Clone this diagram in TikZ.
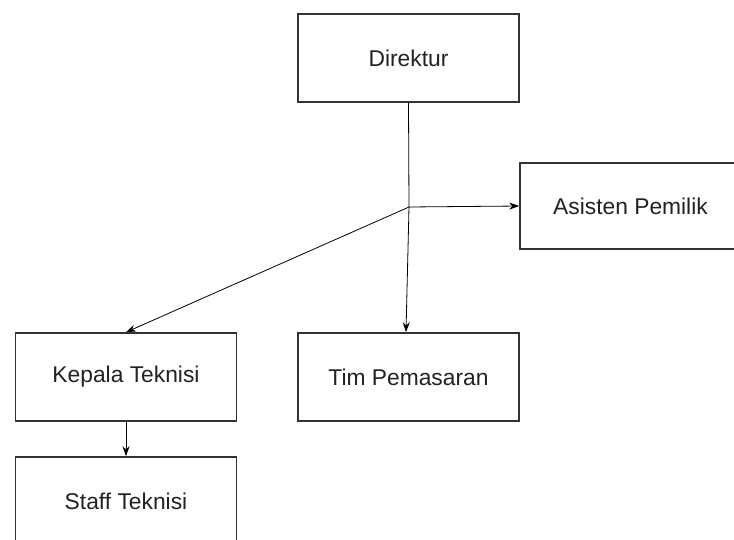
\documentclass[tikz,border=0pt]{standalone}
\usepackage{fontspec}
\setmainfont{Liberation Sans}
\usetikzlibrary{arrows.meta}
\definecolor{boxline}{HTML}{333333}
\definecolor{txt}{HTML}{222222}
\tikzset{
  orgbox/.style={draw=boxline, line width=1.6pt, fill=white, minimum width=221pt, minimum height=88pt, inner sep=0pt, text=txt, font=\fontsize{22.8}{27}\selectfont},
  conn/.style={draw=black, line width=0.8pt},
  arr/.style={conn, -{Stealth[length=10pt,width=7pt]}}
}
\begin{document}
\begin{tikzpicture}[x=1pt,y=-1pt]
\useasboundingbox (0,0) rectangle (734,540);
\clip (0,0) rectangle (734,540);
\fill[white] (0,0) rectangle (734,540);
\node[orgbox] (d) at (408.5,58) {Direktur};
\node[orgbox, minimum height=86pt] (a) at (630.5,206) {Asisten Pemilik};
\node[orgbox] (k) at (126,377) {Kepala Teknisi};
\node[orgbox] (t) at (408.5,377) {Tim Pemasaran};
\node[orgbox] (s) at (126,501) {Staff Teknisi};
\coordinate (j) at (409,207);
\draw[conn] (d.south) -- (j);
\draw[arr] (j) -- ([xshift=-2.5pt]t.north);
\draw[arr] (j) -- (a.west);
\draw[arr] (j) -- (k.north);
\draw[arr] (k.south) -- (s.north);
\end{tikzpicture}
\end{document}
